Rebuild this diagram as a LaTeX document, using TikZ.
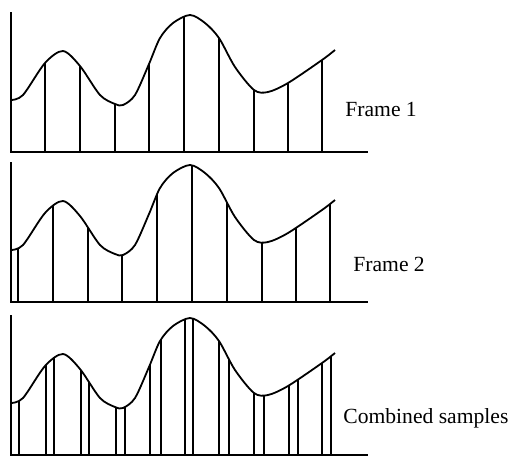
\documentclass[tikz,border=0pt]{standalone}
\usepackage{fontspec}
\setmainfont{Liberation Serif}

\begin{document}
\begin{tikzpicture}[x=0.5pt, y=-0.5pt,
  axis/.style={line width=0.9pt},
  wave/.style={line width=0.9pt},
  sample/.style={line width=0.75pt},
  every node/.style={anchor=base west, inner sep=0pt, font=\fontsize{10.8}{13}\selectfont}]
\useasboundingbox (0,0) rectangle (514,456);

% one panel per frame: baseline / sample positions
\foreach \base/\samples in {152/{45,80,115,149,184,219,254,288,322},
                            302/{18,53,88,122,157,192,227,262,296,330},
                            455/{19,46,54,81,89,116,125,150,161,185,193,219,229,254,264,289,298,322,331}} {
  \begin{scope}[shift={(0,\base)}]
    \draw[axis] (11,-140) -- (11,0) -- (368,0);
    \begin{scope}
      \clip plot[smooth] coordinates {(11,-52) (23,-57) (45,-89) (63,-101) (80,-86) (100,-57) (115,-48) (123,-47) (135,-57) (149,-88) (160,-114) (173,-129) (190,-137) (205,-129) (219,-114) (235,-85) (254,-62) (268,-60) (288,-69) (322,-92) (335,-102)} -- (335,0) -- (11,0) -- cycle;
      \foreach \x in \samples \draw[sample] (\x,0) -- (\x,-150);
    \end{scope}
    \draw[wave] plot[smooth] coordinates {(11,-52) (23,-57) (45,-89) (63,-101) (80,-86) (100,-57) (115,-48) (123,-47) (135,-57) (149,-88) (160,-114) (173,-129) (190,-137) (205,-129) (219,-114) (235,-85) (254,-62) (268,-60) (288,-69) (322,-92) (335,-102)};
  \end{scope}
}

\node (f1) at (345,116) {Frame 1};
\node (f2) at (353,271) {Frame 2};
\node (comb) at (343,423) {Combined samples};
\end{tikzpicture}
\end{document}
